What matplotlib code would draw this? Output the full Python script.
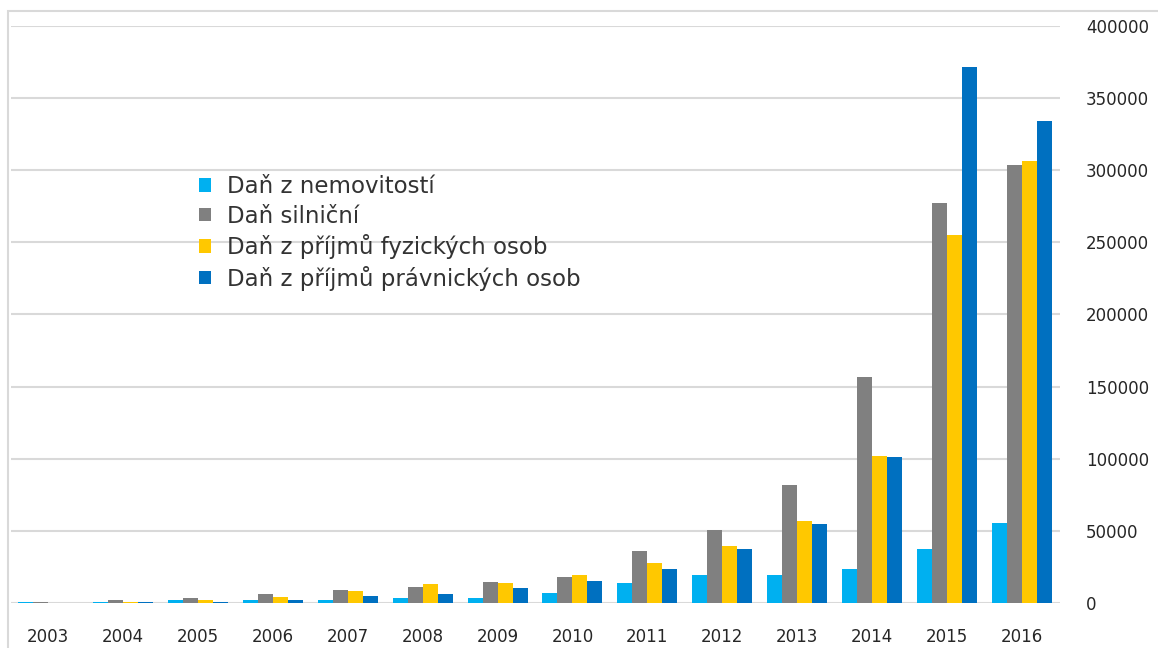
import matplotlib
matplotlib.use('Agg')
from matplotlib import pyplot as plt
from matplotlib.patches import Rectangle
import numpy as np

years = ['2003', '2004', '2005', '2006', '2007', '2008', '2009',
         '2010', '2011', '2012', '2013', '2014', '2015', '2016']

# values
nemovitosti = [1000, 1000, 2300, 2300, 2300, 3500, 3500,
               6900, 13800, 19600, 19500, 24000, 37400, 55400]
silnicni = [1000, 2300, 3500, 6500, 9000, 11300, 14500,
            18000, 36100, 51100, 81600, 157000, 277000, 303500]
fyzicke = [0, 700, 2300, 4600, 8800, 13100, 14200,
           19300, 27600, 39800, 56800, 102000, 254800, 306500]
pravnicke = [0, 1000, 1200, 2300, 5100, 6600, 10400,
             15400, 23500, 37300, 54600, 101500, 371600, 334000]

labels = ['Daň z nemovitostí', 'Daň silniční',
          'Daň z příjmů fyzických osob', 'Daň z příjmů právnických osob']
colors = ['#00B0F0', '#808080', '#FFC800', '#0070C0']

W, H = 1158, 648
fig = plt.figure(figsize=(W / 100, H / 100), dpi=100)
ax = fig.add_axes([10.5 / W, (H - 603.3) / H, 1049 / W, 577.6 / H])

x = np.arange(len(years))
width = 0.2
series = [nemovitosti, silnicni, fyzicke, pravnicke]
for i, (vals, lab, col) in enumerate(zip(series, labels, colors)):
    ax.bar(x + (i - 1.5) * width, vals, width, color=col, label=lab, zorder=3)

ax.set_xlim(-0.5, len(years) - 0.5)
ax.set_ylim(0, 400000)
ax.set_yticks(range(0, 400001, 50000))
ax.set_xticks(x)
ax.set_xticklabels(years)
ax.yaxis.tick_right()
ax.tick_params(axis='y', length=0, pad=19, labelsize=12, labelcolor='#262626')
ax.tick_params(axis='x', length=0, pad=17.5, labelsize=12, labelcolor='#262626')
for lbl in ax.get_yticklabels():
    lbl.set_horizontalalignment('left')
ax.grid(axis='y', color='#d9d9d9', linewidth=1.5, zorder=0)
for s in ax.spines.values():
    s.set_visible(False)

leg = ax.legend(loc='upper left', bbox_to_anchor=(199 / W, 1 - 175 / H),
                bbox_transform=fig.transFigure, frameon=False, fontsize=16.5,
                handlelength=0.52, handleheight=0.52, handletextpad=0.7,
                labelspacing=0.29, borderaxespad=0, borderpad=0)
for t in leg.get_texts():
    t.set_color('#333333')

# outer chart border
fig.patches.append(Rectangle((8 / W, -0.1), 1.2, (H - 11) / H + 0.1, fill=False,
                             edgecolor='#d9d9d9', linewidth=1.5,
                             transform=fig.transFigure, figure=fig))

fig.savefig('out.png', dpi=100)
